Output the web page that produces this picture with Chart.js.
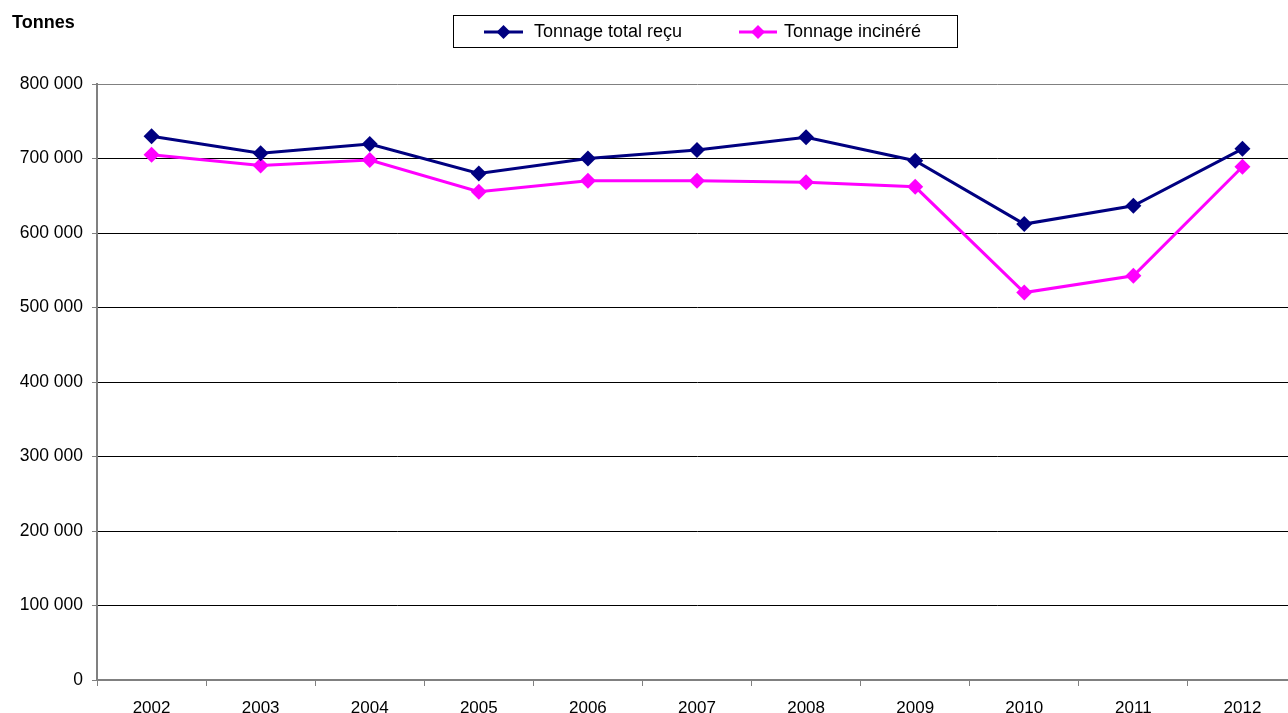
<!DOCTYPE html>
<html>
<head>
<meta charset="utf-8">
<script src="https://cdn.jsdelivr.net/npm/chart.js@4"></script>
<style>
  html, body { margin: 0; padding: 0; background: #fff; overflow: hidden; }
  #wrap { width: 1288px; height: 713px; overflow: hidden; }
</style>
</head>
<body>
<div id="wrap"><canvas id="tonnageChart" width="1297" height="713"></canvas></div>
<script>
// Data
const years = ['2002', '2003', '2004', '2005', '2006', '2007', '2008', '2009', '2010', '2011', '2012'];
const totalRecu = [730000, 707000, 719500, 680000, 700000, 711500, 728500, 697000, 612000, 636500, 713000];
const incinere = [705000, 690500, 698000, 655500, 670000, 670000, 668000, 662000, 520000, 542500, 689000];
const yTicks = [0, 100000, 200000, 300000, 400000, 500000, 600000, 700000, 800000];

const FONT = 'Liberation Sans, Arial, sans-serif';

function fmt(v) {
    return String(v).replace(/\B(?=(\d{3})+(?!\d))/g, ' ');
}

// "Tonnes" label + boxed legend with line and diamond
const decorPlugin = {
    id: 'decor',
    afterDraw(chart) {
        const c = chart.ctx;
        c.save();
        c.fillStyle = '#000';
        c.font = 'bold 18px ' + FONT;
        c.textBaseline = 'middle';
        c.textAlign = 'left';
        c.fillText('Tonnes', 12, 23);

        c.fillStyle = '#fff';
        c.fillRect(453.5, 15.5, 504, 32);
        c.strokeStyle = '#000';
        c.lineWidth = 1;
        c.strokeRect(453.5, 15.5, 504, 32);

        const items = [
            { ds: chart.data.datasets[0], x0: 484, x1: 523, tx: 534 },
            { ds: chart.data.datasets[1], x0: 739, x1: 777, tx: 784 }
        ];
        c.font = '18px ' + FONT;
        items.forEach(it => {
            const y = 32;
            c.strokeStyle = it.ds.borderColor;
            c.lineWidth = 3;
            c.beginPath();
            c.moveTo(it.x0, y);
            c.lineTo(it.x1, y);
            c.stroke();
            const mx = (it.x0 + it.x1) / 2;
            c.fillStyle = it.ds.borderColor;
            c.beginPath();
            c.moveTo(mx, y - 7);
            c.lineTo(mx + 7, y);
            c.lineTo(mx, y + 7);
            c.lineTo(mx - 7, y);
            c.closePath();
            c.fill();
            c.fillStyle = '#000';
            c.fillText(it.ds.label, it.tx, y);
        });
        c.restore();
    }
};

const ctx = document.getElementById('tonnageChart').getContext('2d');
const tonnageChart = new Chart(ctx, {
    type: 'line',
    data: {
        labels: years,
        datasets: [{
            label: 'Tonnage total reçu',
            data: totalRecu,
            borderColor: '#000080',
            backgroundColor: '#000080',
            borderWidth: 3,
            pointStyle: 'rectRot',
            pointRadius: 8,
            pointBorderWidth: 0,
            tension: 0
        }, {
            label: 'Tonnage incinéré',
            data: incinere,
            borderColor: '#FF00FF',
            backgroundColor: '#FF00FF',
            borderWidth: 3,
            pointStyle: 'rectRot',
            pointRadius: 8,
            pointBorderWidth: 0,
            tension: 0
        }]
    },
    options: {
        responsive: false,
        animation: false,
        layout: {
            autoPadding: false,
            padding: { top: 84, right: 0, bottom: 0, left: 0 }
        },
        plugins: {
            legend: { display: false },
            tooltip: { enabled: false }
        },
        scales: {
            x: {
                offset: true,
                grid: {
                    offset: true,
                    drawOnChartArea: false,
                    drawTicks: true,
                    tickLength: 6,
                    tickColor: '#808080'
                },
                border: { color: '#808080', width: 2 },
                ticks: {
                    color: '#000',
                    font: { family: FONT, size: 17 },
                    padding: 12,
                    maxRotation: 0
                },
                afterFit(scale) {
                    scale.height = 33;
                    scale.paddingRight = 0;
                    scale.paddingLeft = 0;
                }
            },
            y: {
                min: 0,
                max: 800000,
                afterBuildTicks(scale) {
                    scale.ticks = yTicks.map(v => ({ value: v }));
                },
                grid: {
                    color: ctx => ctx.tick && ctx.tick.value === 800000 ? '#808080' : '#000',
                    lineWidth: 1,
                    drawTicks: true,
                    tickLength: 5,
                    tickColor: '#808080'
                },
                border: { color: '#808080', width: 2 },
                ticks: {
                    color: '#000',
                    font: { family: FONT, size: 17.5 },
                    padding: 9,
                    callback: v => fmt(v)
                },
                afterFit(scale) { scale.width = 97; }
            }
        }
    },
    plugins: [decorPlugin]
});
</script>
</body>
</html>
